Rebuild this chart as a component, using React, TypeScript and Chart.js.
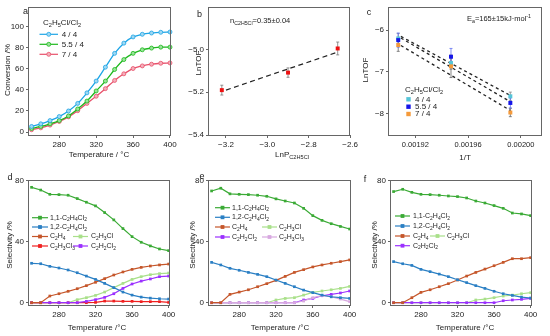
import React, { useEffect, useRef } from "react";
import { Chart, registerables } from "chart.js";
Chart.register(...registerables);

const FONT = "'Liberation Sans', Arial, Helvetica, sans-serif";
const TXT = "#222";

// ---------- data ----------
const temps = [250, 260, 270, 280, 290, 300, 310, 320, 330, 340, 350, 360, 370, 380, 390, 400];
const tempTicks = [280, 320, 360, 400];
const convTicks = [0, 20, 40, 60, 80, 100];
const selTicks = [0, 40, 80];

// panel a: conversion
const convA44 = [5.3, 7.8, 10.9, 14.7, 20, 27.2, 37.2, 48.4, 61.6, 74.7, 84.4, 90.3, 92.8, 94, 94.7, 95];
const convA554 = [3.4, 5.3, 7.8, 10.9, 15.3, 21.9, 29.4, 39, 48.4, 59.4, 68.8, 74.7, 78.1, 79.7, 80.6, 80.6];
const convA74 = [2.2, 4, 6.6, 10, 14.4, 20.3, 27.2, 34, 41.2, 49, 55.3, 60.3, 62.8, 64.4, 65.3, 65.6];

// panel b
const lnP = [-3.22, -2.9, -2.66];
const lnTOFb = [-5.19, -5.108, -4.995];
const errB = [0.023, 0.022, 0.03];
const fitBX = [-3.2, -2.67];
const fitBY = [-5.19, -5.015];
const bTicksX = [-3.2, -3.0, -2.8, -2.6];
const bTicksY = [-5.4, -5.2, -5.0];

// panel c
const invT = [0.001907, 0.001947, 0.001992];
const c44 = [-6.2, -6.79, -7.59];
const c554 = [-6.24, -6.64, -7.75];
const c74 = [-6.36, -6.87, -7.98];
const errC44 = [0.12, 0.15, 0.1];
const errC554 = [0.17, 0.2, 0.12];
const errC74 = [0.15, 0.27, 0.1];
const fitCX = [0.001909, 0.001992];
const fitC44 = [-6.15, -7.57];
const fitC554 = [-6.19, -7.72];
const fitC74 = [-6.37, -7.93];
const cTicksX = [0.00192, 0.00196, 0.002];
const cTicksY = [-8, -7, -6];

// panel d
const d11 = [75.8, 74, 71.2, 71, 70.6, 68.4, 66, 63.6, 59.2, 54.4, 48.7, 43.4, 39.7, 37.3, 35.3, 34.2];
const d12 = [25.9, 25.6, 23.9, 22.8, 21.5, 19.7, 17.5, 15.3, 12.7, 9.9, 7, 5, 3.7, 3, 2.6, 2.4];
const dC2H4 = [0, 0, 4.4, 5.9, 7.5, 9.2, 11.2, 13.4, 15.8, 18.2, 20.2, 21.9, 23.2, 24.1, 24.8, 25.4];
const dC2H3Cl = [0, 0, 0, 0, 0, 2, 3.3, 4.8, 7, 9.9, 12.7, 15.3, 17.1, 18.4, 19.1, 19.5];
const dC2H3Cl3 = [0, 0, 0, 0, 0, 0, 0, 0.2, 1.1, 1.1, 0.9, 0.9, 0.7, 0.7, 0.7, 0.2];
const dC2H2Cl2 = [0, 0, 0, 0, 0, 0, 0.9, 2, 3.5, 5.9, 9.4, 12.3, 14.2, 15.6, 17.1, 17.5];

// panel e
const e11 = [73.4, 75.2, 71.5, 71.2, 71, 70.6, 69.9, 68.2, 66.8, 65.5, 62, 57.2, 54.1, 51.9, 50.1, 48.4];
const e12 = [26.5, 24.8, 22.6, 21.3, 19.9, 18.6, 17.1, 14.9, 12.7, 10.5, 8.3, 6.6, 5, 3.9, 3.3, 2.8];
const eC2H4 = [0, 0, 5.5, 7, 8.5, 10.5, 12.5, 14.7, 17.3, 19.9, 21.7, 23.5, 24.8, 25.9, 27, 28.1];
const eC2H3Cl = [0, 0, 0, 0, 0, 0, 0, 1.8, 2.8, 3.3, 5, 6.8, 7.7, 8.5, 9.4, 10.7];
const eC2H2Cl2 = [0, 0, 0, 0, 0, 0, 0, 0, 0, 0, 1.8, 2.8, 4.6, 5.5, 6.4, 7.7];
const eC2H3Cl3 = [0, 0, 0, 0, 0, 0, 0, 0, 0, 0, 1.1, 3.3, 4.6, 3.9, 2.4, 0.7];

// panel f
const f11 = [73, 74.5, 72.5, 71.2, 71, 70.6, 70.1, 69.7, 68.8, 66.8, 65.5, 63.8, 62, 58.9, 58.3, 57.2];
const f12 = [27, 25.6, 24.5, 21.9, 20.4, 18.8, 17.1, 15.1, 13.2, 11.2, 9.4, 7.5, 5.9, 4.8, 3.7, 3.1];
const fC2H4 = [0, 0, 3.3, 6.8, 8.5, 10.5, 12.5, 14.9, 17.5, 19.9, 22.1, 24.3, 26.5, 28.9, 28.9, 29.6];
const fC2H3Cl = [0, 0, 0, 0, 0, 0, 0, 0, 0, 1.8, 2.4, 3.3, 4.4, 5, 5.9, 6.6];
const fC2H2Cl2 = [0, 0, 0, 0, 0, 0, 0, 0, 0, 0, 0, 0, 1.3, 1.8, 2.2, 2.8];

// ---------- colours ----------
const A_BLUE = "#1DA5E6", A_BLUE_L = "#9FD8F3";
const A_GREEN = "#1DB81D", A_GREEN_L = "#98E498";
const A_RED = "#E8506A", A_RED_L = "#F4AEBB";
const G11 = "#3AAA35";
const B12 = "#2A7FC4";
const BR = "#C5562A";
const LG = "#A9E08A";
const RD = "#F02020";
const PU = "#9B30FF";
const LAV = "#D8A8E0";
const C_CY = "#55C5D8", C_BL = "#1515E8", C_OR = "#F59A3A";
const PT_RED = "#EE1111";

// ---------- text helpers ----------
type Seg = { t: string; k: number };
function parseRich(s: string): Seg[] {
  const out: Seg[] = [];
  const re = /([_^])\{([^}]*)\}/g;
  let last = 0;
  let m: RegExpExecArray | null;
  while ((m = re.exec(s))) {
    if (m.index > last) out.push({ t: s.slice(last, m.index), k: 0 });
    out.push({ t: m[2], k: m[1] === "_" ? 1 : 2 });
    last = re.lastIndex;
  }
  if (last < s.length) out.push({ t: s.slice(last), k: 0 });
  return out;
}

function drawRich(
  ctx: CanvasRenderingContext2D, s: string, x: number, y: number, size: number,
  align: "left" | "center" | "right" = "left", rotate = false, color = TXT
) {
  const segs = parseRich(s);
  ctx.save();
  ctx.fillStyle = color;
  ctx.textBaseline = "middle";
  ctx.textAlign = "left";
  const fontFor = (k: number) => `${k ? size * 0.7 : size}px ${FONT}`;
  let w = 0;
  for (const g of segs) { ctx.font = fontFor(g.k); w += ctx.measureText(g.t).width; }
  ctx.translate(x, y);
  if (rotate) ctx.rotate(-Math.PI / 2);
  let cx = align === "left" ? 0 : align === "center" ? -w / 2 : -w;
  for (const g of segs) {
    ctx.font = fontFor(g.k);
    const dy = g.k === 1 ? size * 0.32 : g.k === 2 ? -size * 0.35 : 0;
    ctx.fillText(g.t, cx, dy);
    cx += ctx.measureText(g.t).width;
  }
  ctx.restore();
}

function marker(ctx: CanvasRenderingContext2D, style: string, x: number, y: number, r: number, fill: string, stroke?: string) {
  ctx.save();
  ctx.fillStyle = fill;
  if (style === "circle") {
    ctx.beginPath(); ctx.arc(x, y, r, 0, Math.PI * 2); ctx.fill();
    if (stroke) { ctx.strokeStyle = stroke; ctx.lineWidth = 0.8; ctx.stroke(); }
  } else {
    ctx.fillRect(x - r, y - r, 2 * r, 2 * r);
  }
  ctx.restore();
}

function legendItem(
  ctx: CanvasRenderingContext2D, x1: number, x2: number, y: number, color: string,
  style: string, r: number, fill: string, text: string, tx: number, size: number, stroke?: string
) {
  ctx.save();
  ctx.strokeStyle = color; ctx.lineWidth = 1.2;
  ctx.beginPath(); ctx.moveTo(x1, y); ctx.lineTo(x2, y); ctx.stroke();
  ctx.restore();
  marker(ctx, style, (x1 + x2) / 2, y, r, fill, stroke);
  drawRich(ctx, text, tx, y, size, "left");
}

function errBars(ctx: CanvasRenderingContext2D, chart: any, xs: number[], ys: number[], errs: number[], color: string, cap: number) {
  const sx = chart.scales.x, sy = chart.scales.y;
  ctx.save(); ctx.strokeStyle = color; ctx.lineWidth = 0.8;
  xs.forEach((xv, i) => {
    const px = sx.getPixelForValue(xv);
    const p1 = sy.getPixelForValue(ys[i] + errs[i]);
    const p2 = sy.getPixelForValue(ys[i] - errs[i]);
    ctx.beginPath();
    ctx.moveTo(px, p1); ctx.lineTo(px, p2);
    ctx.moveTo(px - cap, p1); ctx.lineTo(px + cap, p1);
    ctx.moveTo(px - cap, p2); ctx.lineTo(px + cap, p2);
    ctx.stroke();
  });
  ctx.restore();
}

// ---------- chart helpers ----------
type Rect = { x: number; y: number; w: number; h: number };
type Plot = { l: number; t: number; r: number; b: number };
type AxisSpec = { min: number; max: number; ticks: number[]; fmt: (v: number) => string; size?: number };
type Spec = {
  rect: Rect; plot: Plot; x: AxisSpec; y: AxisSpec; datasets: any[];
  overlay: (ctx: CanvasRenderingContext2D) => void;
  under?: (ctx: CanvasRenderingContext2D, chart: any) => void;
};

const minus = (s: string) => s.replace("-", "\u2212");

function axis(a: AxisSpec, size: number, isY: boolean) {
  return {
    type: "linear", min: a.min, max: a.max, bounds: "data",
    afterBuildTicks: (s: any) => { s.ticks = a.ticks.map((v) => ({ value: v })); },
    afterFit: (s: any) => { if (isY) s.width = size; else s.height = size; },
    ticks: {
      autoSkip: false, maxRotation: 0, padding: 2, color: TXT,
      font: { family: FONT, size: a.size ?? 8 },
      callback: (v: any) => a.fmt(Number(v)),
    },
    grid: { drawOnChartArea: false, drawTicks: true, tickLength: 3, color: "#666", lineWidth: 1 },
    border: { display: false },
  };
}

function seriesDs(data: number[], color: string, opts: any = {}) {
  return {
    data: temps.map((t, i) => ({ x: t, y: data[i] })),
    borderColor: color, backgroundColor: color,
    pointBackgroundColor: color, pointBorderColor: color,
    borderWidth: 1.2, pointRadius: 1.9, pointStyle: "rect", pointBorderWidth: 0,
    tension: 0, clip: false, ...opts,
  };
}

function xyDs(xs: number[], ys: number[], opts: any) {
  return { data: xs.map((x, i) => ({ x, y: ys[i] })), clip: false, ...opts };
}

function Panel({ spec }: { spec: Spec }) {
  const ref = useRef<HTMLCanvasElement | null>(null);
  useEffect(() => {
    const { rect, plot } = spec;
    const cv = ref.current!;
    const chart = new Chart(cv, {
      type: "line",
      data: { datasets: spec.datasets },
      options: {
        responsive: false, animation: false, devicePixelRatio: 1, events: [],
        layout: { padding: { left: 0, right: rect.x + rect.w - plot.r, top: plot.t - rect.y, bottom: 0 } },
        plugins: { legend: { display: false }, tooltip: { enabled: false }, title: { display: false } },
        scales: {
          x: axis(spec.x, rect.y + rect.h - plot.b, false) as any,
          y: axis(spec.y, plot.l - rect.x, true) as any,
        },
      } as any,
      plugins: [{
        id: "overlay",
        beforeDatasetsDraw(c: any) { if (spec.under) spec.under(c.ctx, c); },
        afterDraw(c: any) {
          const ctx = c.ctx as CanvasRenderingContext2D;
          const a = c.chartArea;
          ctx.save();
          ctx.strokeStyle = "#666"; ctx.lineWidth = 1;
          ctx.strokeRect(Math.round(a.left) - 0.5, Math.round(a.top) + 0.5, Math.round(a.right - a.left), Math.round(a.bottom - a.top));
          ctx.restore();
          ctx.save();
          ctx.translate(-rect.x, -rect.y);
          spec.overlay(ctx);
          ctx.restore();
        },
      }],
    });
    return () => chart.destroy();
  }, []);
  return (
    <canvas ref={ref} width={spec.rect.w} height={spec.rect.h}
      style={{ position: "absolute", left: spec.rect.x, top: spec.rect.y, width: spec.rect.w, height: spec.rect.h }} />
  );
}

const intFmt = (v: number) => String(Math.round(v));
const tempX: AxisSpec = { min: 247.2, max: 401.5, ticks: tempTicks, fmt: intFmt };
const selY: AxisSpec = { min: -1.5, max: 80.6, ticks: selTicks, fmt: intFmt };

const L11 = "1,1-C_{2}H_{4}Cl_{2}";
const L12 = "1,2-C_{2}H_{4}Cl_{2}";
const LC2H4 = "C_{2}H_{4}";
const LC2H3Cl = "C_{2}H_{3}Cl";
const LC2H3Cl3 = "C_{2}H_{3}Cl_{3}";
const LC2H2Cl2 = "C_{2}H_{2}Cl_{2}";

const aPt = { pointStyle: "circle", pointRadius: 2, pointBorderWidth: 0.8, cubicInterpolationMode: "monotone", borderWidth: 1.3 };

const specA: Spec = {
  rect: { x: 0, y: 0, w: 180, h: 168 },
  plot: { l: 29, t: 6, r: 171, b: 135 },
  x: { min: 247.2, max: 401.1, ticks: tempTicks, fmt: intFmt },
  y: { min: -2.8, max: 118.9, ticks: convTicks, fmt: intFmt },
  datasets: [
    seriesDs(convA44, A_BLUE, { ...aPt, pointBackgroundColor: A_BLUE_L }),
    seriesDs(convA554, A_GREEN, { ...aPt, pointBackgroundColor: A_GREEN_L }),
    seriesDs(convA74, A_RED, { ...aPt, pointBackgroundColor: A_RED_L }),
  ],
  overlay: (ctx) => {
    drawRich(ctx, "a", 25.5, 12, 9, "center");
    drawRich(ctx, "Conversion /%", 7.5, 70, 8, "center", true);
    drawRich(ctx, "Temperature / \u00B0C", 99, 155, 8, "center");
    drawRich(ctx, "C_{2}H_{5}Cl/Cl_{2}", 43, 23, 8, "left");
    legendItem(ctx, 39.5, 58, 34.3, A_BLUE, "circle", 2, A_BLUE_L, "4 / 4", 61.7, 8, A_BLUE);
    legendItem(ctx, 39.5, 58, 44.3, A_GREEN, "circle", 2, A_GREEN_L, "5.5 / 4", 61.7, 8, A_GREEN);
    legendItem(ctx, 39.5, 58, 54.3, A_RED, "circle", 2, A_RED_L, "7 / 4", 61.7, 8, A_RED);
  },
};

const specB: Spec = {
  rect: { x: 180, y: 0, w: 180, h: 168 },
  plot: { l: 209, t: 5, r: 356, b: 135 },
  x: { min: -3.282, max: -2.6, ticks: bTicksX, fmt: (v) => minus(v.toFixed(1)) },
  y: { min: -5.4, max: -4.8, ticks: bTicksY, fmt: (v) => minus(v.toFixed(1)) },
  datasets: [
    xyDs(lnP, lnTOFb, { showLine: false, pointStyle: "rect", pointRadius: 2.8, pointBackgroundColor: PT_RED, pointBorderWidth: 0, borderColor: PT_RED, backgroundColor: PT_RED }),
    xyDs(fitBX, fitBY, { borderColor: "#222", borderWidth: 1.2, borderDash: [5, 3.5], pointRadius: 0 }),
  ],
  under: (ctx, chart) => errBars(ctx, chart, lnP, lnTOFb, errB, "#777", 1.5),
  overlay: (ctx) => {
    drawRich(ctx, "b", 199.5, 15, 9, "center");
    drawRich(ctx, "LnTOF", 199, 63, 8, "center", true);
    drawRich(ctx, "LnP_{C2H5Cl}", 292, 155, 8, "center");
    drawRich(ctx, "n_{C2H5Cl}=0.35\u00B10.04", 230, 20.7, 7.5, "left");
  },
};

const specC: Spec = {
  rect: { x: 360, y: 0, w: 190, h: 168 },
  plot: { l: 389, t: 5, r: 542, b: 135 },
  x: { min: 0.0019, max: 0.002016, ticks: cTicksX, fmt: (v) => v.toFixed(5), size: 7.5 },
  y: { min: -8.52, max: -5.44, ticks: cTicksY, fmt: (v) => minus(String(Math.round(v))) },
  datasets: [
    xyDs(invT, c74, { showLine: false, pointStyle: "rect", pointRadius: 2.8, pointBackgroundColor: C_OR, pointBorderWidth: 0, borderColor: C_OR }),
    xyDs(invT, c554, { showLine: false, pointStyle: "rect", pointRadius: 2.8, pointBackgroundColor: C_BL, pointBorderWidth: 0, borderColor: C_BL }),
    xyDs(invT, c44, { showLine: false, pointStyle: "rect", pointRadius: 2.8, pointBackgroundColor: C_CY, pointBorderWidth: 0, borderColor: C_CY }),
    xyDs(fitCX, fitC44, { borderColor: "#222", borderWidth: 1.3, borderDash: [3, 3], pointRadius: 0 }),
    xyDs(fitCX, fitC554, { borderColor: "#222", borderWidth: 1.3, borderDash: [3, 3], pointRadius: 0 }),
    xyDs(fitCX, fitC74, { borderColor: "#222", borderWidth: 1.3, borderDash: [3, 3], pointRadius: 0 }),
  ],
  under: (ctx, chart) => {
    errBars(ctx, chart, invT, c44, errC44, "#888", 1.5);
    errBars(ctx, chart, invT, c74, errC74, "#666", 1.5);
    errBars(ctx, chart, invT, c554, errC554, "#6070F0", 1.5);
  },
  overlay: (ctx) => {
    drawRich(ctx, "c", 369, 13, 9, "center");
    drawRich(ctx, "LnTOF", 366, 70, 8, "center", true);
    drawRich(ctx, "1/T", 465, 158, 8, "center");
    drawRich(ctx, "E_{a}=165\u00B115kJ\u00B7mol^{-1}", 531, 19, 7.5, "right");
    drawRich(ctx, "C_{2}H_{5}Cl/Cl_{2}", 405, 90, 8, "left");
    marker(ctx, "rect", 408.5, 99.3, 2.2, C_CY);
    drawRich(ctx, "4 / 4", 415, 99.3, 8, "left");
    marker(ctx, "rect", 408.5, 106.7, 2.2, C_BL);
    drawRich(ctx, "5.5 / 4", 415, 106.7, 8, "left");
    marker(ctx, "rect", 408.5, 114, 2.2, C_OR);
    drawRich(ctx, "7 / 4", 415, 114, 8, "left");
  },
};

const specD: Spec = {
  rect: { x: 0, y: 168, w: 180, h: 168 },
  plot: { l: 29, t: 180, r: 170, b: 305 },
  x: tempX, y: selY,
  datasets: [
    seriesDs(d11, G11), seriesDs(d12, B12), seriesDs(dC2H4, BR),
    seriesDs(dC2H2Cl2, PU), seriesDs(dC2H3Cl3, RD), seriesDs(dC2H3Cl, LG),
  ],
  overlay: (ctx) => {
    drawRich(ctx, "d", 10, 178, 9, "center");
    drawRich(ctx, "Selectivity /%", 10, 245, 8, "center", true);
    drawRich(ctx, "Temperature /\u00B0C", 97, 328, 8, "center");
    legendItem(ctx, 32, 48, 217.7, G11, "rect", 1.9, G11, L11, 50, 7);
    legendItem(ctx, 32, 48, 227, B12, "rect", 1.9, B12, L12, 50, 7);
    legendItem(ctx, 32, 48, 236.5, BR, "rect", 1.9, BR, LC2H4, 50, 7);
    legendItem(ctx, 32, 48, 246, RD, "rect", 1.9, RD, LC2H3Cl3, 50, 7);
    legendItem(ctx, 73, 88, 236.5, LG, "rect", 1.9, LG, LC2H3Cl, 91, 7);
    legendItem(ctx, 73, 88, 246, PU, "rect", 1.9, PU, LC2H2Cl2, 91, 7);
  },
};

const specE: Spec = {
  rect: { x: 180, y: 168, w: 180, h: 168 },
  plot: { l: 209, t: 180, r: 351, b: 305 },
  x: tempX, y: selY,
  datasets: [
    seriesDs(e11, G11), seriesDs(e12, B12), seriesDs(eC2H4, BR),
    seriesDs(eC2H3Cl3, LAV), seriesDs(eC2H2Cl2, PU), seriesDs(eC2H3Cl, LG),
  ],
  overlay: (ctx) => {
    drawRich(ctx, "e", 202, 177, 9, "center");
    drawRich(ctx, "Selectivity /%", 193, 245, 8, "center", true);
    drawRich(ctx, "Temperature /\u00B0C", 280, 328, 8, "center");
    legendItem(ctx, 215, 230, 207.7, G11, "rect", 1.9, G11, L11, 232, 7);
    legendItem(ctx, 215, 230, 217.3, B12, "rect", 1.9, B12, L12, 232, 7);
    legendItem(ctx, 215, 230, 227, BR, "rect", 1.9, BR, LC2H4, 232, 7);
    legendItem(ctx, 215, 230, 237, PU, "rect", 1.9, PU, LC2H2Cl2, 232, 7);
    legendItem(ctx, 262, 277, 227, LG, "rect", 1.9, LG, LC2H3Cl, 279, 7);
    legendItem(ctx, 262, 277, 237, LAV, "rect", 1.9, LAV, LC2H3Cl3, 279, 7);
  },
};

const specF: Spec = {
  rect: { x: 360, y: 168, w: 190, h: 168 },
  plot: { l: 391, t: 180, r: 532, b: 305 },
  x: tempX, y: selY,
  datasets: [
    seriesDs(f11, G11), seriesDs(f12, B12), seriesDs(fC2H4, BR),
    seriesDs(fC2H2Cl2, PU), seriesDs(fC2H3Cl, LG),
  ],
  overlay: (ctx) => {
    drawRich(ctx, "f", 365, 180, 9, "center");
    drawRich(ctx, "Selectivity /%", 375, 245, 8, "center", true);
    drawRich(ctx, "Temperature /\u00B0C", 465, 328, 8, "center");
    legendItem(ctx, 395, 410, 216, G11, "rect", 1.9, G11, L11, 413, 7);
    legendItem(ctx, 395, 410, 226, B12, "rect", 1.9, B12, L12, 413, 7);
    legendItem(ctx, 395, 410, 236, BR, "rect", 1.9, BR, LC2H4, 413, 7);
    legendItem(ctx, 395, 410, 245.7, PU, "rect", 1.9, PU, LC2H2Cl2, 413, 7);
    legendItem(ctx, 430, 445, 236, LG, "rect", 1.9, LG, LC2H3Cl, 447, 7);
  },
};

const specs = [specA, specB, specC, specD, specE, specF];

export default function App() {
  return (
    <div style={{ position: "absolute", left: 0, top: 0, width: 550, height: 336, background: "#fff", overflow: "hidden" }}>
      {specs.map((s, i) => <Panel key={i} spec={s} />)}
    </div>
  );
}
